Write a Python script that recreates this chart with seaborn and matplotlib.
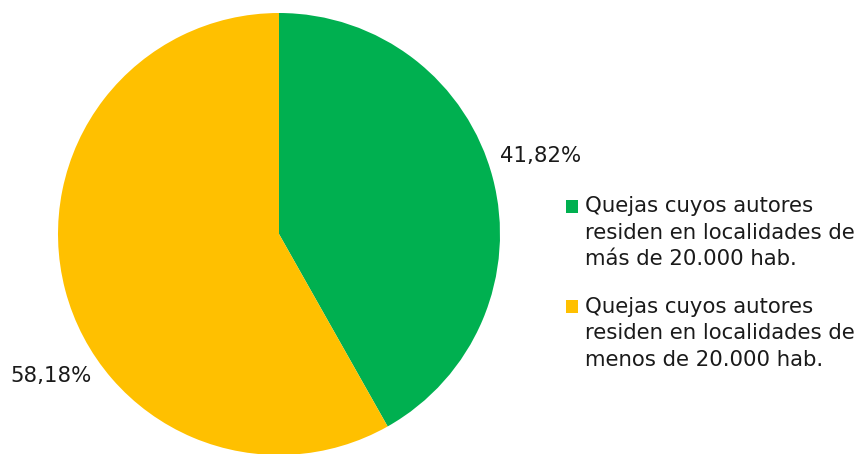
import matplotlib
matplotlib.use("Agg")
import matplotlib.pyplot as plt
import seaborn as sns

# Share of complaints by size of the author's municipality
categories = [
    "Quejas cuyos autores\nresiden en localidades de\nmás de 20.000 hab.",
    "Quejas cuyos autores\nresiden en localidades de\nmenos de 20.000 hab.",
]
shares = [41.82, 58.18]
colors = ["#00B050", "#FFC000"]

sns.set_theme(style="white")
plt.rcParams["font.family"] = ["DejaVu Sans"]

W, H = 858, 454
fig = plt.figure(figsize=(W / 100, H / 100), dpi=100)
ax = fig.add_axes([0, 0, 1, 1])

wedges, _ = ax.pie(
    shares,
    colors=sns.color_palette(colors),
    startangle=90,
    counterclock=False,
    center=(279, 220),
    radius=221,
    frame=True,
    wedgeprops=dict(linewidth=0),
)
ax.set_xlim(0, W)
ax.set_ylim(0, H)
ax.set_axis_off()

fs = 15.3
label_pos = [(541, 298), (51, 78)]
for v, (x, y) in zip(shares, label_pos):
    ax.text(x, y, f"{v:.2f}".replace(".", ",") + "%", ha="center", va="center",
            fontsize=fs, color="#1a1a1a")

leg = ax.legend(
    wedges, categories,
    loc="upper left",
    bbox_to_anchor=(566 / W, 258 / H),
    frameon=False,
    fontsize=fs,
    handlelength=0.58,
    handleheight=0.58,
    handletextpad=0.3,
    labelspacing=1.3,
    borderpad=0,
    borderaxespad=0,
)
line_factor = 1.41
for t in leg.get_texts():
    t.set_color("#1a1a1a")
    t.set_linespacing(line_factor)
# keep each colour key level with the first line of its label
for p in leg.legend_handles:
    p.set_y(p.get_y() + 19.4)

fig.savefig("out.png", dpi=100)
